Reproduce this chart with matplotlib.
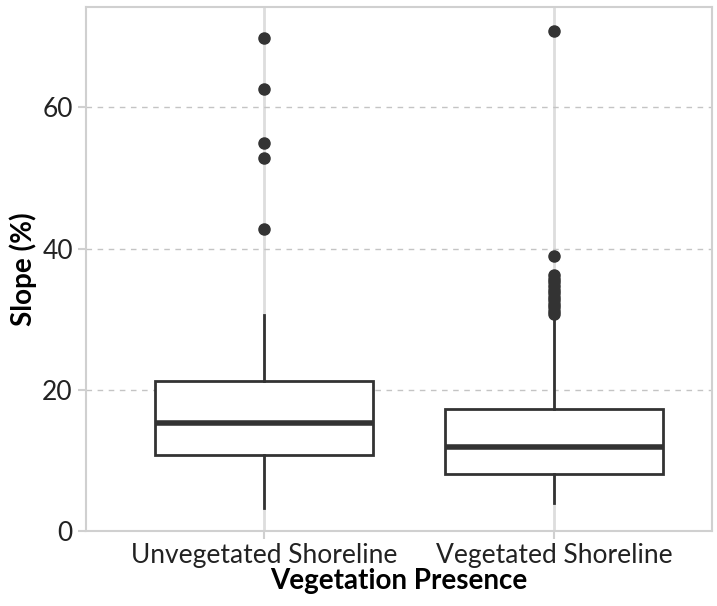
import matplotlib
matplotlib.use("Agg")
import matplotlib.pyplot as plt

# Box statistics (slope, %)
groups = ["Unvegetated Shoreline", "Vegetated Shoreline"]
whisker_low = [3.3, 4.0]
q1 = [10.8, 8.1]
median = [15.3, 11.9]
q3 = [21.3, 17.2]
whisker_high = [30.6, 30.5]
outliers = [
    [42.8, 52.8, 54.9, 62.6, 69.9],
    [30.8, 31.2, 31.7, 32.2, 32.7, 33.2, 33.7, 34.2, 34.7, 35.2, 35.7, 36.2,
     38.9, 70.9],
]
y_ticks = [0, 20, 40, 60]

plt.rcParams["font.family"] = ["Lato", "DejaVu Sans"]
ink = "#333333"
light = "#d0d0d0"

fig = plt.figure(figsize=(7.17, 6.06), dpi=100)
ax = fig.add_axes([0.12, 0.124, 0.873, 0.864])

stats = []
for i, g in enumerate(groups):
    stats.append({"label": g, "whislo": whisker_low[i], "q1": q1[i],
                  "med": median[i], "q3": q3[i], "whishi": whisker_high[i],
                  "fliers": outliers[i]})

ax.bxp(stats, positions=[0, 1], widths=0.755, showfliers=True,
       patch_artist=True,
       boxprops=dict(facecolor="white", edgecolor=ink, linewidth=2),
       medianprops=dict(color=ink, linewidth=4, solid_capstyle="butt"),
       whiskerprops=dict(color=ink, linewidth=2),
       capprops=dict(linewidth=0),
       flierprops=dict(marker="o", markerfacecolor=ink, markeredgecolor=ink,
                       markersize=8), zorder=3)

for x in [0, 1]:
    ax.axvline(x, color="#dddddd", lw=2, zorder=1)
for y in y_ticks[1:]:
    ax.axhline(y, color="#c4c4c4", lw=1, ls=(0, (4, 4)), zorder=1)

ax.set_xlim(-0.614, 1.545)
ax.set_ylim(0, 74.2)
ax.set_yticks(y_ticks)
ax.set_xticks([0, 1])
ax.set_xticklabels(groups)

for s in ax.spines.values():
    s.set_color(light)
    s.set_linewidth(1.5)

ax.tick_params(axis="both", colors=light, labelcolor="#222222",
               labelsize=19, width=1.5, length=6)
ax.tick_params(axis="x", pad=3)
ax.set_xlabel("Vegetation Presence", fontsize=20, fontweight="bold",
              labelpad=0)
ax.set_ylabel("Slope (%)", fontsize=20, fontweight="bold", labelpad=4)

fig.savefig("out.png", dpi=100)
